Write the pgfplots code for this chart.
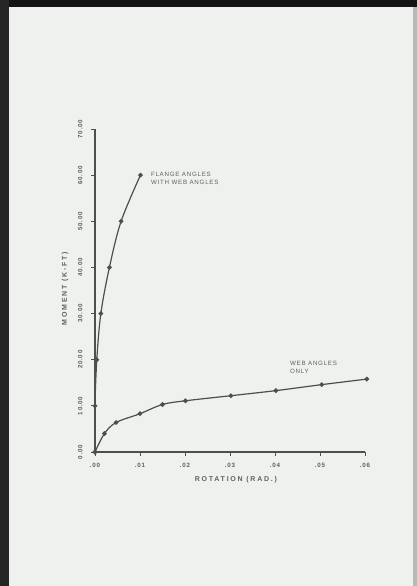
\documentclass[border=0pt]{standalone}
\usepackage{pgfplots}
\pgfplotsset{compat=1.18}
\usepackage{fontspec}
\setmainfont{Liberation Sans}
\newfontfamily\lab[LetterSpace=25]{Liberation Sans Bold}
\newfontfamily\ann[LetterSpace=12]{Liberation Sans}
\newfontfamily\tkf[LetterSpace=12]{Liberation Sans Bold}
\definecolor{bg}{HTML}{EEF1ED}
\definecolor{ln}{HTML}{4C504C}
\definecolor{tx}{HTML}{5E625E}
\begin{document}
\begin{tikzpicture}[x=1pt,y=1pt]
\useasboundingbox (0,0) rectangle (417,586);
\fill[bg] (0,0) rectangle (417,586);
\fill[black!92] (0,579) rectangle (417,586);
\fill[black!85] (0,0) rectangle (9,586);
\fill[gray!55] (413,0) rectangle (417,579);
\begin{axis}[
  at={(95pt,134pt)}, anchor=south west,
  scale only axis, width=270pt, height=323pt,
  xmin=0, xmax=0.06, ymin=0, ymax=70,
  scaled x ticks=false, scaled y ticks=false,
  axis lines*=left, clip=false,
  axis line style={ln, line width=1.3pt},
  tick align=outside, major tick length=4pt,
  tick style={ln, line width=0.8pt},
  xtick={0,0.01,0.02,0.03,0.04,0.05,0.06},
  xticklabels={.00,.01,.02,.03,.04,.05,.06},
  ytick={0,10,20,30,40,50,60,70},
  yticklabels={0.00,10.00,20.00,30.00,40.00,50.00,60.00,70.00},
  ticklabel style={font=\tkf\fontsize{6.2}{7}\selectfont, text=tx},
  yticklabel style={rotate=90, anchor=south},
  xticklabel shift=4pt,
  yticklabel shift=5pt,
  xlabel={ROTATION (RAD.)},
  ylabel={MOMENT (K-FT)},
  label style={font=\lab\fontsize{7}{8}\selectfont, text=tx},
  xlabel style={at={(axis description cs:0.522,-0.087)}, anchor=center},
  ylabel style={at={(axis description cs:-0.111,0.506)}, anchor=center},
]
\addplot[ln, line width=1.2pt, smooth, tension=0.55, mark=*, mark size=1.7pt, mark options={fill=ln}]
  coordinates {(0,0)(0,10)(0.0004,20)(0.0013,30)(0.0032,40)(0.0058,50)(0.0101,60)};
\addplot[ln, line width=1.2pt, smooth, tension=0.55, mark=*, mark size=1.7pt, mark options={fill=ln}]
  coordinates {(0,0)(0.0021,4.0)(0.0047,6.4)(0.01,8.3)(0.015,10.3)(0.0201,11.1)(0.0302,12.2)(0.0402,13.3)(0.0504,14.6)(0.0604,15.8)};
\node[anchor=west, align=left, inner sep=0pt, text=tx, font=\ann\fontsize{6.2}{8.5}\selectfont] at (axis cs:0.0124,59.3) {FLANGE ANGLES\\WITH WEB ANGLES};
\node[anchor=west, align=left, inner sep=0pt, text=tx, font=\ann\fontsize{6.2}{8.5}\selectfont] at (axis cs:0.0433,18.3) {WEB ANGLES\\ONLY};
\end{axis}
\end{tikzpicture}
\end{document}
